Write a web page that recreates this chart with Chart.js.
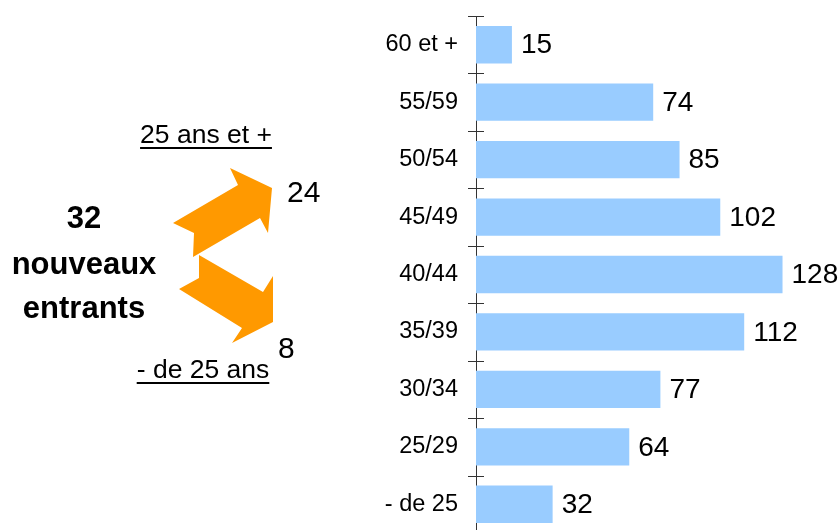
<!DOCTYPE html>
<html>
<head>
<meta charset="utf-8">
<script src="https://cdn.jsdelivr.net/npm/chart.js@4.4.1/dist/chart.umd.min.js"></script>
<style>
  html, body { margin: 0; padding: 0; background: #fff; overflow: hidden; }
  #wrap { width: 840px; height: 540px; }
</style>
</head>
<body>
<div id="wrap"><canvas id="ageChart" width="840" height="540"></canvas></div>
<script>
// ---------------- DATA ----------------
// age bands, top to bottom
const ageBands = ["60 et +", "55/59", "50/54", "45/49", "40/44", "35/39", "30/34", "25/29", "- de 25"];
const headcount = [15, 74, 85, 102, 128, 112, 77, 64, 32];

// new entrants, split by age
const entrantsTotal = 32;
const entrantsTitle = ["nouveaux", "entrants"];
const entrantsLabels = ["25 ans et +", "- de 25 ans"];
const entrantsValues = [24, 8];

const FONT = "'Liberation Sans', Arial, sans-serif";
const BAR_COLOR = "#99CCFF";
const ARROW_COLOR = "#FF9900";

// ---------------- PLUGINS ----------------
// tick marks crossing the axis at each band boundary
const crossTicks = {
    id: "crossTicks",
    afterDatasetsDraw(chart) {
        const y = chart.scales.y;
        const ctx = chart.ctx;
        const half = (y.getPixelForValue(1) - y.getPixelForValue(0)) / 2;
        ctx.save();
        ctx.strokeStyle = "#333";
        ctx.lineWidth = 1;
        ctx.beginPath();
        for (let i = 0; i <= ageBands.length; i++) {
            const py = Math.round(y.getPixelForValue(i) - half) + 0.5;
            ctx.moveTo(y.right - 8, py);
            ctx.lineTo(y.right + 8, py);
        }
        ctx.stroke();
        ctx.restore();
    }
};

// value written right of each bar
const valueLabels = {
    id: "valueLabels",
    afterDatasetsDraw(chart) {
        const ctx = chart.ctx;
        const meta = chart.getDatasetMeta(0);
        ctx.save();
        ctx.font = "28px " + FONT;
        ctx.fillStyle = "#000";
        ctx.textAlign = "left";
        ctx.textBaseline = "middle";
        meta.data.forEach((bar, i) => {
            ctx.fillText(String(headcount[i]), bar.x + 9, bar.y + 1);
        });
        ctx.restore();
    }
};

function drawPoly(ctx, pts) {
    ctx.beginPath();
    ctx.moveTo(pts[0][0], pts[0][1]);
    for (let i = 1; i < pts.length; i++) ctx.lineTo(pts[i][0], pts[i][1]);
    ctx.closePath();
    ctx.fill();
}

function underlined(ctx, text, cx, baseline) {
    ctx.fillText(text, cx, baseline);
    const w = ctx.measureText(text).width;
    ctx.fillRect(cx - w / 2, baseline + 4, w, 2);
}

// left side: new entrants split with arrows
const entrantsPanel = {
    id: "entrantsPanel",
    afterDraw(chart) {
        const ctx = chart.ctx;
        ctx.save();
        ctx.fillStyle = "#000";
        ctx.textAlign = "center";
        ctx.textBaseline = "alphabetic";

        ctx.font = "bold 31px " + FONT;
        ctx.fillText(String(entrantsTotal), 84, 228);
        ctx.fillText(entrantsTitle[0], 84, 274);
        ctx.fillText(entrantsTitle[1], 84, 318);

        ctx.font = "26.5px " + FONT;
        underlined(ctx, entrantsLabels[0], 206, 143);
        underlined(ctx, entrantsLabels[1], 203, 378);

        ctx.font = "30px " + FONT;
        ctx.textAlign = "left";
        ctx.fillText(String(entrantsValues[0]), 287, 202);
        ctx.fillText(String(entrantsValues[1]), 278, 358);

        ctx.fillStyle = ARROW_COLOR;
        drawPoly(ctx, [[173, 223], [238, 185], [230, 168], [272, 188], [268, 233],
                       [260, 218], [193, 257], [194, 233]]);
        drawPoly(ctx, [[199, 255], [263, 292], [273, 276], [273, 322], [232, 343],
                       [242, 328], [179, 289], [199, 278]]);
        ctx.restore();
    }
};

// ---------------- CHART ----------------
const ctx = document.getElementById("ageChart");
new Chart(ctx, {
    type: "bar",
    data: {
        labels: ageBands,
        datasets: [{
            data: headcount,
            backgroundColor: BAR_COLOR,
            borderWidth: 0,
            categoryPercentage: 1,
            barPercentage: 0.65,
        }]
    },
    options: {
        indexAxis: "y",
        responsive: false,
        animation: false,
        layout: { padding: { top: 16, bottom: 7, left: 0, right: 0 } },
        plugins: {
            legend: { display: false },
            tooltip: { enabled: false },
        },
        scales: {
            x: {
                display: false,
                min: 0,
                max: 152,
            },
            y: {
                grid: { display: false, drawTicks: true, tickLength: 8 },
                border: { display: true, color: "#333", width: 1 },
                ticks: {
                    color: "#000",
                    padding: 10,
                    font: { family: FONT, size: 23.5 },
                },
                afterFit(scale) {
                    scale.width = 476;
                    scale.paddingTop = 0;
                    scale.paddingBottom = 0;
                },
            }
        }
    },
    plugins: [crossTicks, valueLabels, entrantsPanel]
});
</script>
</body>
</html>
